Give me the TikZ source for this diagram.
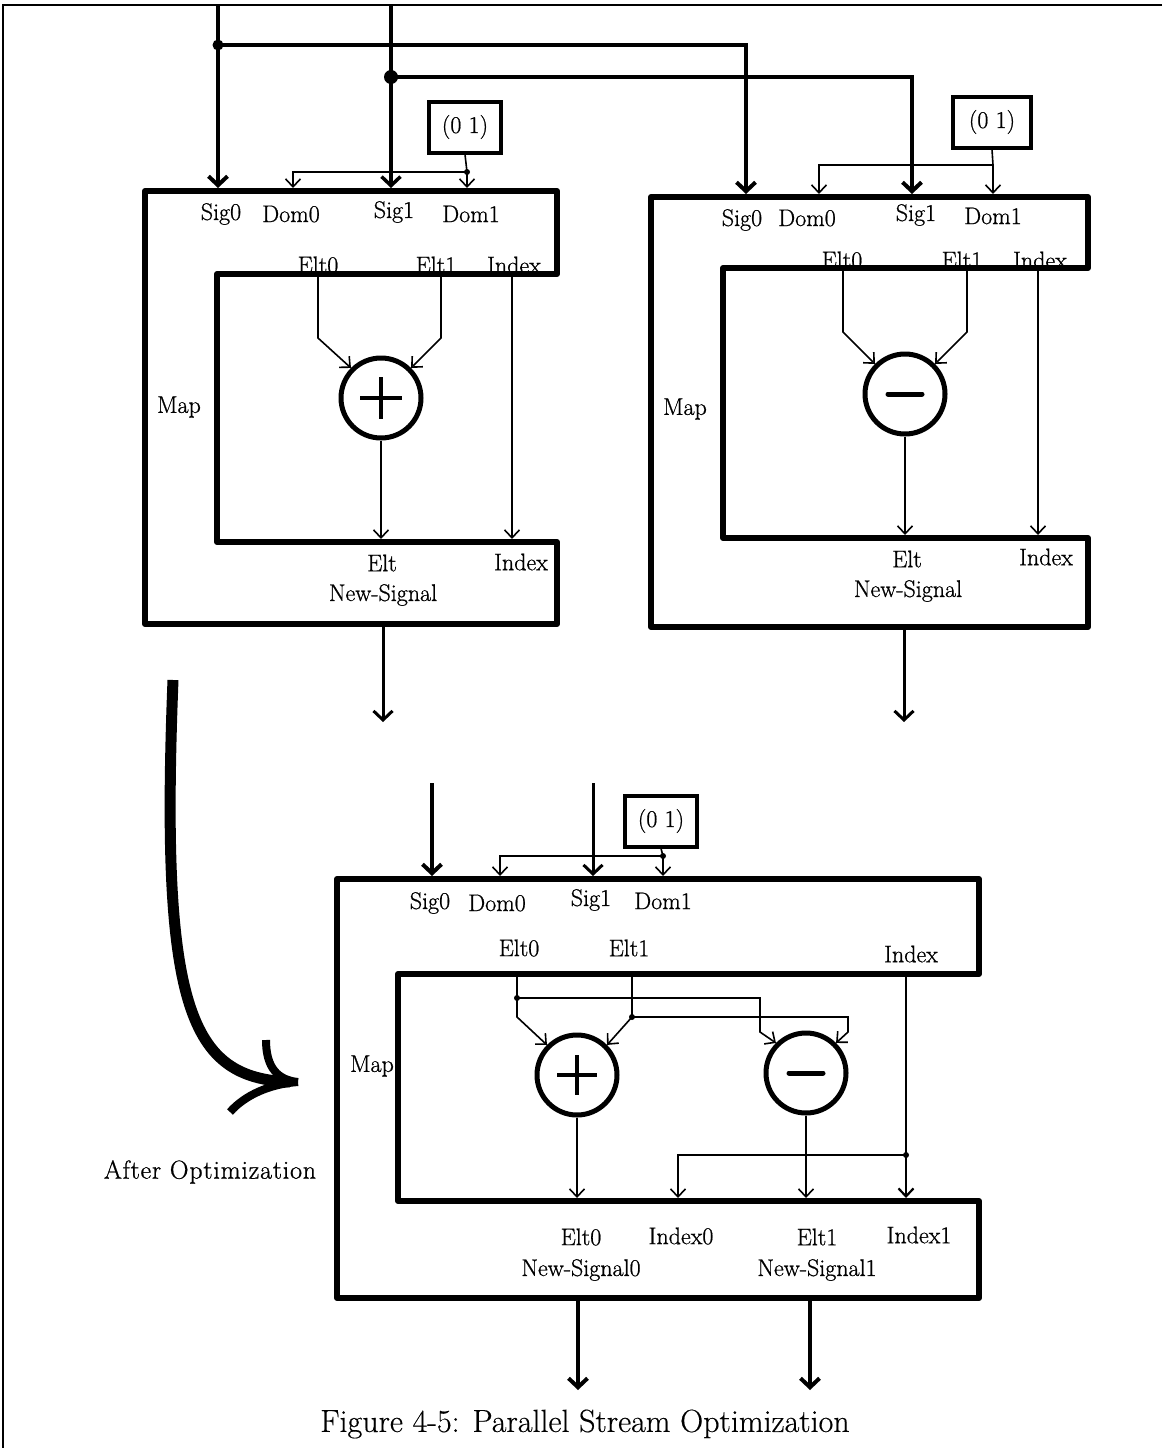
\documentclass[tikz,border=0pt]{standalone}
\usepackage{fontspec}
\usetikzlibrary{arrows.meta}
\newfontfamily\lblfont[FakeBold=0.8]{Latin Modern Roman}
\newfontfamily\capfont[FakeBold=0.4]{Latin Modern Roman}
\begin{document}
\begin{tikzpicture}[x=1pt,y=-1pt,
  blk/.style={line width=6pt,line join=round},
  wire/.style={line width=1.6pt},
  bus/.style={line width=4pt},
  arr/.style={-{Straight Barb[length=8pt,width=15pt]}},
  barr/.style={-{Straight Barb[length=9pt,width=19pt]}},
  lbl/.style={font=\lblfont\fontsize{24}{28}\selectfont,inner sep=0pt},
  op/.style={circle,draw,line width=5pt,minimum size=80pt,inner sep=0pt},
  cst/.style={draw,line width=4pt,minimum width=72pt,minimum height=51pt,inner sep=0pt,font=\lblfont\fontsize{24}{27}\selectfont},
  jdot/.style={circle,fill,inner sep=0pt,minimum size=#1},
  plusbar/.style={line width=4.5pt},
  minusbar/.style={line width=5pt,line cap=round}
]
\useasboundingbox (0,0) rectangle (1162,1448);
% page frame
\draw[line width=1.5pt] (1162,5) -- (3,5) -- (3,1448);

%================ Block 1 =================
\draw[blk] (145,191) -- (557,191) -- (557,274) -- (217,274) -- (217,542) -- (557,542) -- (557,624) -- (145,624) -- cycle;
\coordinate (in0) at (218,5);
\coordinate (in1) at (391,5);
\coordinate (b1sig0) at (218,188);
\coordinate (b1dom0) at (293,188);
\coordinate (b1sig1) at (391,188);
\coordinate (b1dom1) at (467,188);
\node[jdot=11pt] (j0) at (218,45) {};
\node[jdot=14pt] (j1) at (391,77) {};
\node[cst] (k1) at (465,127) {(0 1)};
\node[jdot=6pt] (k1j) at (467,172) {};
\draw[wire] (k1.south) -- (k1j.center);
\draw[wire,arr] (k1j.center) -| (b1dom0);
\draw[wire,arr] (k1j.center) -- (b1dom1);

\node[lbl] (l1s0) at (221,214) {Sig0};
\node[lbl] (l1d0) at (291,214) {Dom0};
\node[lbl] (l1s1) at (394,212) {Sig1};
\node[lbl] (l1d1) at (471,214) {Dom1};
\node[lbl] (l1e0) at (318,265) {Elt0};
\node[lbl] (l1e1) at (436,265) {Elt1};
\node[lbl] (l1ix) at (514,265) {Index};
\node[lbl] (l1map) at (179,407) {Map};

\node[op] (p1) at (381,398) {};
\draw[plusbar] (p1.center) ++(-21,0) -- ++(42,0);
\draw[plusbar] (p1.center) ++(0,-21) -- ++(0,42);
\coordinate (b1e0) at (318,274);
\coordinate (b1e1) at (441,274);
\coordinate (b1ix) at (512,274);
\coordinate (b1elt) at (381,539);
\coordinate (b1ixo) at (512,539);
\draw[wire,arr] (b1e0) -- ++(0,64) -- (p1.north west);
\draw[wire,arr] (b1e1) -- ++(0,64) -- (p1.north east);
\draw[wire,arr] (p1.south) -- (b1elt);
\draw[wire,arr] (b1ix) -- (b1ixo);

\node[lbl] (l1elt) at (382,563) {Elt};
\node[lbl] (l1ixo) at (521,562) {Index};
\node[lbl] (l1ns) at (383,595) {New-Signal};
\coordinate (b1out) at (383,627);
\coordinate (b1end) at (383,722);
\draw[line width=3pt,barr] (b1out) -- (b1end);

%================ Block 2 =================
\draw[blk] (651,197) -- (1088,197) -- (1088,268) -- (723,268) -- (723,538) -- (1088,538) -- (1088,627) -- (651,627) -- cycle;
\coordinate (b2sig0) at (746,194);
\coordinate (b2dom0) at (819,194);
\coordinate (b2sig1) at (912,194);
\coordinate (b2dom1) at (993,194);
\draw[bus,barr] (in0) -- (b1sig0);
\draw[bus,barr] (j0.center) -| (b2sig0);
\draw[line width=3.5pt,barr] (in1) -- (b1sig1);
\draw[bus,barr] (j1.center) -| (b2sig1);

\node[cst,minimum width=78pt] (k2) at (992,122) {(0 1)};
\coordinate (k2j) at (993,165);
\draw[wire] (k2.south) -- (k2j);
\draw[wire,arr] (k2j) -| (b2dom0);
\draw[wire,arr] (k2j) -- (b2dom1);

\node[lbl] (l2s0) at (742,220) {Sig0};
\node[lbl] (l2d0) at (807,218) {Dom0};
\node[lbl] (l2s1) at (916,215) {Sig1};
\node[lbl] (l2d1) at (993,216) {Dom1};
\node[lbl] (l2e0) at (842,260) {Elt0};
\node[lbl] (l2e1) at (962,260) {Elt1};
\node[lbl] (l2ix) at (1040,260) {Index};
\node[lbl] (l2map) at (685,409) {Map};

\node[op] (m1) at (905,394) {};
\draw[minusbar] (m1.center) ++(-17,0) -- ++(34,0);
\coordinate (b2e0) at (843,268);
\coordinate (b2e1) at (967,268);
\coordinate (b2ix) at (1038,268);
\coordinate (b2elt) at (905,535);
\coordinate (b2ixo) at (1038,535);
\draw[wire,arr] (b2e0) -- ++(0,64) -- (m1.north west);
\draw[wire,arr] (b2e1) -- ++(0,64) -- (m1.north east);
\draw[wire,arr] (m1.south) -- (b2elt);
\draw[wire,arr] (b2ix) -- (b2ixo);

\node[lbl] (l2elt) at (907,559) {Elt};
\node[lbl] (l2ixo) at (1046,557) {Index};
\node[lbl] (l2ns) at (908,591) {New-Signal};
\coordinate (b2out) at (904,630);
\coordinate (b2end) at (904,722);
\draw[line width=3pt,barr] (b2out) -- (b2end);

%================ Big curved arrow =================
\draw[line width=11pt] (173,680) .. controls (160,1010) and (190,1078) .. (290,1082);
\draw[line width=8pt] (266,1040) .. controls (266,1068) and (278,1080) .. (298,1082);
\draw[line width=8pt] (298,1082) .. controls (270,1084) and (245,1095) .. (230,1112);
\node[lbl,font=\lblfont\fontsize{26}{30}\selectfont] (after) at (210,1172) {\addfontfeatures{LetterSpace=3}After Optimization};

%================ Block 3 =================
\draw[blk] (337,879) -- (979,879) -- (979,974) -- (398,974) -- (398,1201) -- (979,1201) -- (979,1298) -- (337,1298) -- cycle;
\coordinate (in30) at (432,783);
\coordinate (in31) at (593,783);
\coordinate (b3sig0) at (432,876);
\coordinate (b3dom0) at (500,876);
\coordinate (b3sig1) at (593,876);
\coordinate (b3dom1) at (663,876);
\draw[bus,barr] (in30) -- (b3sig0);
\draw[line width=3pt,barr] (in31) -- (b3sig1);
\node[cst] (k3) at (661,821) {(0 1)};
\node[jdot=6pt] (k3j) at (663,856) {};
\draw[wire] (k3.south) -- (k3j.center);
\draw[wire,arr] (k3j.center) -| (b3dom0);
\draw[wire,arr] (k3j.center) -- (b3dom1);

\node[lbl] (l3s0) at (430,903) {Sig0};
\node[lbl] (l3d0) at (497,903) {Dom0};
\node[lbl] (l3s1) at (591,900) {Sig1};
\node[lbl] (l3d1) at (663,901) {Dom1};
\node[lbl] (l3e0) at (519,948) {Elt0};
\node[lbl] (l3e1) at (629,948) {Elt1};
\node[lbl] (l3ix) at (911,954) {Index};
\node[lbl] (l3map) at (372,1066) {Map};

\node[op] (p3) at (577,1075) {};
\draw[plusbar] (p3.center) ++(-20,0) -- ++(40,0);
\draw[plusbar] (p3.center) ++(0,-20) -- ++(0,40);
\node[op] (m3) at (806,1073) {};
\draw[minusbar] (m3.center) ++(-17,0) -- ++(34,0);

\coordinate (b3e0) at (517,974);
\coordinate (b3e1) at (632,974);
\coordinate (b3ix) at (906,974);
\node[jdot=6pt] (j3a) at (517,998) {};
\node[jdot=6pt] (j3b) at (632,1017) {};
\draw[wire] (b3e0) -- (j3a.center);
\draw[wire] (b3e1) -- (j3b.center);
\draw[wire,arr] (j3a.center) -- ++(0,19) -- (p3.north west);
\draw[wire,arr] (j3b.center) -- (p3.north east);
\draw[wire,arr] (j3a.center) -- ++(243,0) -- ++(0,34) -- (m3.north west);
\draw[wire,arr] (j3b.center) -- ++(216,0) -- ++(0,15) -- (m3.north east);

\coordinate (b3elt0) at (577,1198);
\coordinate (b3ix0) at (678,1198);
\coordinate (b3elt1) at (806,1198);
\coordinate (b3ix1) at (906,1198);
\node[jdot=6pt] (j3c) at (906,1155) {};
\draw[wire,arr] (p3.south) -- (b3elt0);
\draw[wire,arr] (m3.south) -- (b3elt1);
\draw[wire] (b3ix) -- (j3c.center);
\draw[line width=2.2pt,arr] (j3c.center) -- (b3ix1);
\draw[wire,arr] (j3c.center) -| (b3ix0);

\node[lbl] (l3o0) at (581,1237) {Elt0};
\node[lbl] (l3i0) at (681,1236) {Index0};
\node[lbl] (l3o1) at (817,1237) {Elt1};
\node[lbl] (l3i1) at (919,1235) {Index1};
\node[lbl] (l3n0) at (581,1270) {New-Signal0};
\node[lbl] (l3n1) at (817,1270) {New-Signal1};

\coordinate (b3out0) at (578,1301);
\coordinate (b3out1) at (810,1301);
\coordinate (b3end0) at (578,1390);
\coordinate (b3end1) at (810,1390);
\draw[line width=4pt,barr] (b3out0) -- (b3end0);
\draw[line width=4pt,barr] (b3out1) -- (b3end1);

\node[font=\capfont\fontsize{32}{36}\selectfont,inner sep=0pt] (cap) at (585,1424) {Figure 4-5: Parallel Stream Optimization};
\end{tikzpicture}
\end{document}
